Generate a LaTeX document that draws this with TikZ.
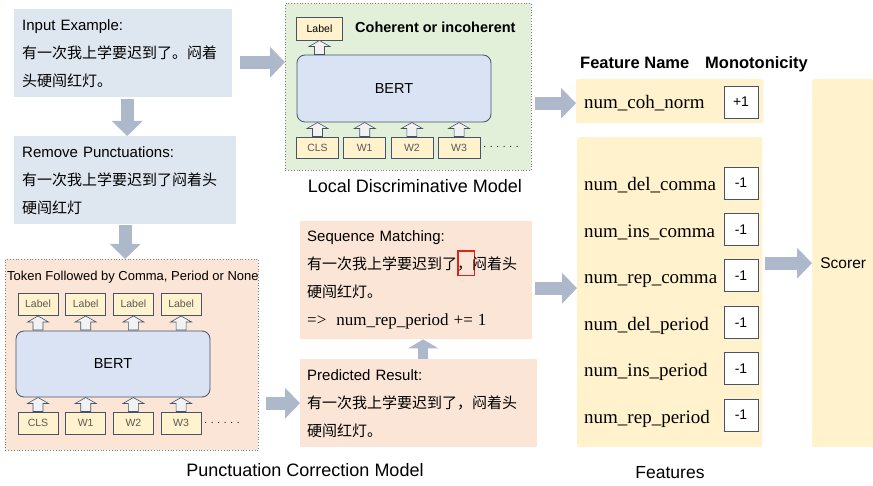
\documentclass[tikz,border=0pt]{standalone}
\usepackage{fontspec}
\setmainfont{Liberation Sans}
\newfontfamily\cjk{Noto Sans CJK SC}
\newfontfamily\featfont{Liberation Serif}
\usetikzlibrary{arrows.meta,calc,positioning}

\definecolor{boxblue}{HTML}{DEE6F0}
\definecolor{boxpink}{HTML}{FBE5D6}
\definecolor{boxgreen}{HTML}{E2F0D9}
\definecolor{boxyellow}{HTML}{FFF2CC}
\definecolor{bertblue}{HTML}{DAE3F3}
\definecolor{flowgray}{HTML}{ADB9CA}
\definecolor{edgedark}{HTML}{44546A}
\definecolor{tokgray}{HTML}{595959}
\definecolor{markred}{HTML}{E32219}

% red frame round one character
\newcommand{\hl}[1]{\rlap{\color{markred}\setlength{\fboxsep}{0pt}\setlength{\fboxrule}{1.5pt}\fbox{\rule[-5pt]{0pt}{23pt}\phantom{#1}}}#1}

\begin{document}
\begin{tikzpicture}[x=1pt, y=-1pt,
    textbox/.style={fill=boxblue, anchor=north west, inner xsep=8pt, inner ysep=4pt, align=left, font=\fontsize{15}{28}\selectfont},
    modelbox/.style={draw=gray, dotted, line width=0.8pt, anchor=north west, inner sep=0},
    bert/.style={draw=edgedark, fill=bertblue, rounded corners=8pt, line width=0.8pt, font=\fontsize{14.5}{16}\selectfont},
    tok/.style={draw=edgedark, fill=boxyellow, line width=0.8pt, text=tokgray, font=\fontsize{10.5}{12}\selectfont, inner sep=0},
    featbox/.style={fill=boxyellow, rounded corners=2pt, anchor=north west, inner sep=0, font=\fontsize{15.5}{18}\selectfont},
    mono/.style={draw=edgedark, fill=white, line width=0.8pt, minimum width=34pt, minimum height=32pt, inner sep=0, font=\fontsize{14}{16}\selectfont},
    fname/.style={font=\featfont\fontsize{19}{22}\selectfont, anchor=base west, inner sep=0},
    head/.style={font=\bfseries\fontsize{16.5}{19}\selectfont, anchor=base west, inner sep=0},
    caption/.style={font=\fontsize{18}{21}\selectfont, inner sep=0},
    flow/.style={draw=flowgray, line width=13pt, -{Triangle[length=15pt,width=30pt]}},
    flowshort/.style={draw=flowgray, line width=10pt, -{Triangle[length=9pt,width=30pt]}},
    hollow/.pic={\draw[draw=edgedark, fill=gray!10, line width=0.6pt] (-5,7) -- (-5,-1) -- (-10.5,-1) -- (0,-7) -- (10.5,-1) -- (5,-1) -- (5,7) -- cycle;}
]
    \useasboundingbox (0,0) rectangle (873,486);

    % Input and punctuation removal
    \node[textbox, text width=202pt, minimum height=88pt] (input) at (14,9) {Input Example:\\{\cjk 有一次我上学要迟到了。闷着}\\{\cjk 头硬闯红灯。}};
    \node[textbox, text width=206pt, minimum height=88pt] (remove) at (14,136) {Remove Punctuations:\\{\cjk 有一次我上学要迟到了闷着头}\\{\cjk 硬闯红灯}};

    % Punctuation correction model
    \node[modelbox, fill=boxpink, minimum width=253pt, minimum height=191pt] (punct) at (5,259) {};
    \node[font=\fontsize{13}{15}\selectfont, anchor=west, inner sep=0] (ptitle) at (7,277) {Token Followed by Comma, Period or None};
    \node[bert, minimum width=194pt, minimum height=66pt] (pbert) at (113,364) {BERT};
    \foreach \t [count=\i] in {CLS,W1,W2,W3} {
        \node[tok, minimum width=40pt, minimum height=22pt] (ptok\i) at ({38+47.7*(\i-1)},423) {\t};
        \node[tok, minimum width=40pt, minimum height=22pt] (plab\i) at ({38+47.7*(\i-1)},304) {Label};
        \pic at ($(ptok\i.north)!.5!(ptok\i.north |- pbert.south)$) {hollow};
        \pic at ($(pbert.north -| plab\i.south)!.5!(plab\i.south)$) {hollow};
    }
    \node[font=\fontsize{10}{12}\selectfont] (pdots) at (222,423) {. . . . . .};
    \node[caption] (pcap) at (305,470) {Punctuation Correction Model};

    % Local discriminative model
    \node[modelbox, fill=boxgreen, minimum width=246pt, minimum height=167pt] (ldm) at (285,3) {};
    \node[tok, text=black, minimum width=46pt, minimum height=23pt] (llab) at (319.5,28.5) {Label};
    \node[font=\bfseries\fontsize{14.5}{17}\selectfont, anchor=west, inner sep=0] (cohtext) at (355,27) {Coherent or incoherent};
    \node[bert, minimum width=194pt, minimum height=67pt] (lbert) at (394,88.5) {BERT};
    \pic at ($(lbert.north -| llab.south)!.5!(llab.south)$) {hollow};
    \foreach \t [count=\i] in {CLS,W1,W2,W3} {
        \node[tok, minimum width=42pt, minimum height=21pt] (ltok\i) at ({317.5+47.2*(\i-1)},147.5) {\t};
        \pic at ($(ltok\i.north)!.5!(ltok\i.north |- lbert.south)$) {hollow};
    }
    \node[font=\fontsize{10}{12}\selectfont] (ldots) at (501,147) {. . . . . .};
    \node[caption] (lcap) at (415,186) {Local Discriminative Model};

    % Matching
    \node[textbox, fill=boxpink, text width=218pt, inner xsep=7pt, minimum height=118pt] (sm) at (300,221) {Sequence Matching:\\{\cjk 有一次我上学要迟到了\hl{，}闷着头}\\{\cjk 硬闯红灯。}\\{\featfont\fontsize{17}{28}\selectfont =>\ \ num\_rep\_period += 1}};
    \node[textbox, fill=boxpink, text width=223pt, inner xsep=7pt, minimum height=88pt] (pred) at (300,359) {Predicted Result:\\{\cjk 有一次我上学要迟到了，闷着头}\\{\cjk 硬闯红灯。}};

    % Features
    \node[head] (hname) at (580,69) {Feature Name};
    \node[head] (hmono) at (705,69) {Monotonicity};
    \node[featbox, minimum width=187pt, minimum height=44pt] (cohbox) at (576,79) {};
    \node[fname] (fcoh) at (584,109) {num\_coh\_norm};
    \node[mono] (mcoh) at (741,102) {+1};
    \node[featbox, minimum width=185pt, minimum height=310pt] (features) at (577,137) {};
    \foreach \f [count=\i] in {del\_comma,ins\_comma,rep\_comma,del\_period,ins\_period,rep\_period} {
        \node[fname] (f\i) at (584,{191+46.4*(\i-1)}) {num\_\f};
        \node[mono] (m\i) at (741,{183+46.4*(\i-1)}) {-1};
    }
    \node[caption, font=\fontsize{17.5}{21}\selectfont] (fcap) at (670,473) {Features};
    \node[featbox, minimum width=62pt, minimum height=368pt] (scorer) at (812,79) {Scorer};

    % Flow arrows
    \coordinate (a1) at ($(input.east)+(8,9)$);
    \draw[flow] (a1) -- (a1 -| ldm.west);
    \draw[flow] ($(input.south)+(4,2)$) -- ($(remove.north)+(2,0)$);
    \draw[flow] ($(remove.south)+(0,1)$) -- (remove.south |- punct.north);
    \draw[flow] ($(pred.west -| punct.east)+(7,0)$) -- (pred.west);
    \draw[flowshort] ($(pred.north)+(4.5,0)$) -- ($(sm.south)+(7,0)$);
    \coordinate (a6) at ($(sm.east)+(3,8)$);
    \draw[flow] (a6) -- (a6 -| features.west);
    \coordinate (a7) at ($(cohbox.west -| ldm.east)+(3,2)$);
    \draw[flow] (a7) -- (a7 -| cohbox.west);
    \coordinate (a8) at ($(features.east)+(3,-29)$);
    \draw[flow] (a8) -- (a8 -| scorer.west);
\end{tikzpicture}
\end{document}
